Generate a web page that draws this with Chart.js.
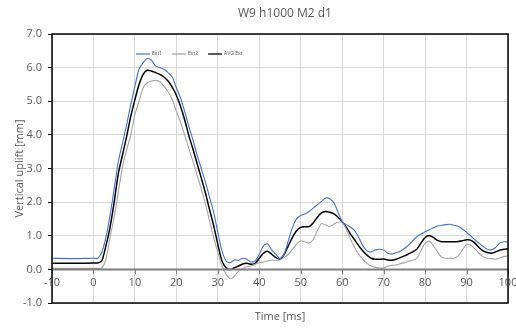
<!DOCTYPE html>
<html lang="en">
<head>
    <meta charset="UTF-8">
    <title>W9 h1000 M2 d1</title>
    <script src="https://cdn.jsdelivr.net/npm/chart.js"></script>
    <style>
        html, body { margin: 0; padding: 0; background: #fff; }
        #wrap { width: 516px; height: 328px; }
    </style>
</head>
<body>
    <div id="wrap"><canvas id="uplift" width="516" height="328"></canvas></div>
    <script>
        // time [ms]
        const time = [-10, -5, 0, 1, 2, 3, 4, 5, 6, 7, 8, 9, 10, 11, 12, 13, 14, 15, 16, 17, 18, 19,
            20, 21, 22, 23, 24, 25, 26, 27, 28, 29, 30, 31, 32, 33, 34, 35, 36, 37, 38, 39,
            40, 41, 42, 43, 44, 45, 46, 47, 48, 49, 50, 51, 52, 53, 54, 55, 56, 57, 58, 59,
            60, 61, 62, 63, 64, 65, 66, 67, 68, 69, 70, 71, 72, 73, 74, 75, 76, 77, 78, 79,
            80, 81, 82, 83, 84, 85, 86, 87, 88, 89, 90, 91, 92, 93, 94, 95, 96, 97, 98, 99, 100];

        // vertical uplift [mm]
        const ext1 = [0.33, 0.32, 0.33, 0.33, 0.50, 0.95, 1.60, 2.40, 3.20, 3.75, 4.30, 4.90, 5.45, 5.95, 6.15, 6.27, 6.22, 6.05, 6.00, 5.95, 5.85, 5.72,
            5.40, 5.10, 4.70, 4.25, 3.85, 3.40, 3.00, 2.60, 2.15, 1.70, 1.10, 0.55, 0.25, 0.20, 0.28, 0.27, 0.33, 0.30, 0.22, 0.25,
            0.45, 0.70, 0.76, 0.58, 0.45, 0.32, 0.45, 0.85, 1.25, 1.50, 1.60, 1.65, 1.72, 1.82, 1.92, 2.02, 2.12, 2.10, 1.98, 1.70,
            1.42, 1.33, 1.26, 1.15, 0.95, 0.70, 0.55, 0.52, 0.58, 0.60, 0.58, 0.48, 0.46, 0.50, 0.54, 0.62, 0.72, 0.85, 0.97, 1.05,
            1.12, 1.18, 1.24, 1.29, 1.31, 1.33, 1.34, 1.31, 1.28, 1.20, 1.10, 1.00, 0.88, 0.78, 0.68, 0.60, 0.58, 0.65, 0.78, 0.82, 0.81];

        const ext2 = [0.03, 0.03, 0.03, 0.03, 0.04, 0.30, 0.95, 1.55, 2.30, 3.05, 3.55, 4.00, 4.60, 5.00, 5.40, 5.55, 5.60, 5.62, 5.58, 5.45, 5.28, 5.05,
            4.70, 4.38, 4.00, 3.60, 3.22, 2.80, 2.40, 1.95, 1.45, 0.95, 0.50, 0.10, -0.15, -0.27, -0.20, -0.05, 0.03, 0.08, 0.10, 0.15,
            0.20, 0.22, 0.25, 0.27, 0.27, 0.28, 0.35, 0.45, 0.60, 0.75, 0.85, 0.82, 0.78, 0.88, 1.15, 1.36, 1.32, 1.27, 1.35, 1.40,
            1.40, 1.20, 0.90, 0.65, 0.45, 0.30, 0.18, 0.10, 0.06, 0.04, 0.04, 0.09, 0.12, 0.13, 0.17, 0.20, 0.24, 0.27, 0.32, 0.55,
            0.78, 0.84, 0.70, 0.52, 0.36, 0.33, 0.33, 0.33, 0.40, 0.58, 0.74, 0.72, 0.62, 0.48, 0.38, 0.33, 0.32, 0.30, 0.34, 0.38, 0.40];

        const avgExt = [0.18, 0.18, 0.19, 0.19, 0.25, 0.70, 1.25, 2.00, 2.85, 3.40, 3.95, 4.55, 5.05, 5.50, 5.80, 5.92, 5.90, 5.85, 5.80, 5.72, 5.60, 5.42,
            5.18, 4.85, 4.45, 3.98, 3.58, 3.15, 2.72, 2.28, 1.78, 1.30, 0.75, 0.25, 0.05, -0.01, 0.05, 0.10, 0.16, 0.18, 0.15, 0.18,
            0.33, 0.48, 0.54, 0.45, 0.35, 0.30, 0.45, 0.70, 0.95, 1.15, 1.25, 1.27, 1.27, 1.38, 1.55, 1.68, 1.72, 1.70, 1.65, 1.55,
            1.42, 1.25, 1.05, 0.88, 0.70, 0.55, 0.42, 0.33, 0.30, 0.30, 0.31, 0.28, 0.27, 0.30, 0.35, 0.40, 0.46, 0.52, 0.60, 0.78,
            0.95, 1.01, 0.95, 0.86, 0.82, 0.82, 0.82, 0.82, 0.83, 0.85, 0.88, 0.87, 0.78, 0.65, 0.55, 0.50, 0.48, 0.52, 0.57, 0.60, 0.61];

        const seriesNames = ['Ext1', 'Ext2', 'AVG Ext'];
        const xTicks = [-10, 0, 10, 20, 30, 40, 50, 60, 70, 80, 90, 100];
        const chartTitle = 'W9 h1000 M2 d1';

        const toPoints = arr => arr.map((v, i) => ({ x: time[i], y: v }));
        const textColor = '#595959';
        const font = 'Open Sans';

        // title, frame, zero line with ticks, x labels on the zero line, small legend inside plot
        const excelLook = {
            id: 'excelLook',
            afterDraw(chart) {
                const { ctx, chartArea: a, scales: { x, y } } = chart;
                const y0 = y.getPixelForValue(0);
                ctx.save();
                // title
                ctx.fillStyle = textColor;
                ctx.font = '12px "' + font + '"';
                ctx.textAlign = 'center';
                ctx.textBaseline = 'middle';
                ctx.fillText(chartTitle, 285, 14);
                // zero axis
                ctx.strokeStyle = '#7f7f7f';
                ctx.lineWidth = 2;
                ctx.beginPath();
                ctx.moveTo(a.left, y0);
                ctx.lineTo(a.right, y0);
                ctx.stroke();
                ctx.lineWidth = 1;
                x.ticks.forEach(t => {
                    const px = Math.round(x.getPixelForValue(t.value)) + 0.5;
                    ctx.beginPath();
                    ctx.moveTo(px, y0);
                    ctx.lineTo(px, y0 + 5);
                    ctx.stroke();
                });
                // frame
                ctx.strokeStyle = '#000';
                ctx.lineWidth = 1.5;
                ctx.strokeRect(a.left, a.top, a.right - a.left, a.bottom - a.top);
                // x labels
                ctx.fillStyle = textColor;
                ctx.font = '11px "' + font + '"';
                x.ticks.forEach(t => {
                    ctx.fillText(String(t.value), x.getPixelForValue(t.value), y0 + 13);
                });
                // legend
                ctx.font = '5px "' + font + '"';
                ctx.textAlign = 'left';
                let lx = 136;
                const ly = 54;
                chart.data.datasets.forEach(ds => {
                    ctx.strokeStyle = ds.label === 'AVG Ext' ? '#595959' : ds.borderColor;
                    ctx.lineWidth = ds.label === 'AVG Ext' ? 2 : 1.2;
                    ctx.beginPath();
                    ctx.moveTo(lx, ly);
                    ctx.lineTo(lx + 14, ly);
                    ctx.stroke();
                    ctx.fillStyle = textColor;
                    ctx.fillText(ds.label, lx + 16, ly);
                    lx += 16 + ctx.measureText(ds.label).width + 10;
                });
                ctx.restore();
            }
        };

        new Chart(document.getElementById('uplift'), {
            type: 'line',
            data: {
                datasets: [
                    { label: seriesNames[0], data: toPoints(ext1), borderColor: '#4472C4', borderWidth: 1.1 },
                    { label: seriesNames[1], data: toPoints(ext2), borderColor: '#A5A5A5', borderWidth: 1.1 },
                    { label: seriesNames[2], data: toPoints(avgExt), borderColor: '#000000', borderWidth: 1.5 }
                ]
            },
            options: {
                responsive: false,
                animation: false,
                events: [],
                elements: { point: { radius: 0 }, line: { tension: 0.25, fill: false } },
                layout: { padding: { top: 34, right: 8, bottom: 0, left: 0 } },
                plugins: {
                    legend: { display: false },
                    tooltip: { enabled: false },
                    title: { display: false }
                },
                scales: {
                    x: {
                        type: 'linear',
                        min: -10,
                        max: 100,
                        afterBuildTicks: s => { s.ticks = xTicks.map(v => ({ value: v })); },
                        afterFit: s => { s.height = 25; },
                        ticks: { display: false },
                        grid: { color: '#d9d9d9', lineWidth: 1, drawTicks: false },
                        border: { display: false },
                        title: {
                            display: true,
                            text: 'Time [ms]',
                            color: textColor,
                            font: { family: font, size: 11 },
                            padding: { top: 0, bottom: 4.4 }
                        }
                    },
                    y: {
                        min: -1,
                        max: 7,
                        afterFit: s => { s.width = 52; },
                        ticks: {
                            stepSize: 1,
                            color: textColor,
                            font: { family: font, size: 11 },
                            padding: 6,
                            callback: v => v.toFixed(1)
                        },
                        grid: { color: '#d9d9d9', lineWidth: 1, drawTicks: true, tickLength: 4, tickColor: '#000' },
                        border: { display: false },
                        title: {
                            display: true,
                            text: 'Vertical uplift [mm]',
                            color: textColor,
                            font: { family: font, size: 11 },
                            padding: { top: 13, bottom: 0 }
                        }
                    }
                }
            },
            plugins: [excelLook]
        });
    </script>
</body>
</html>
